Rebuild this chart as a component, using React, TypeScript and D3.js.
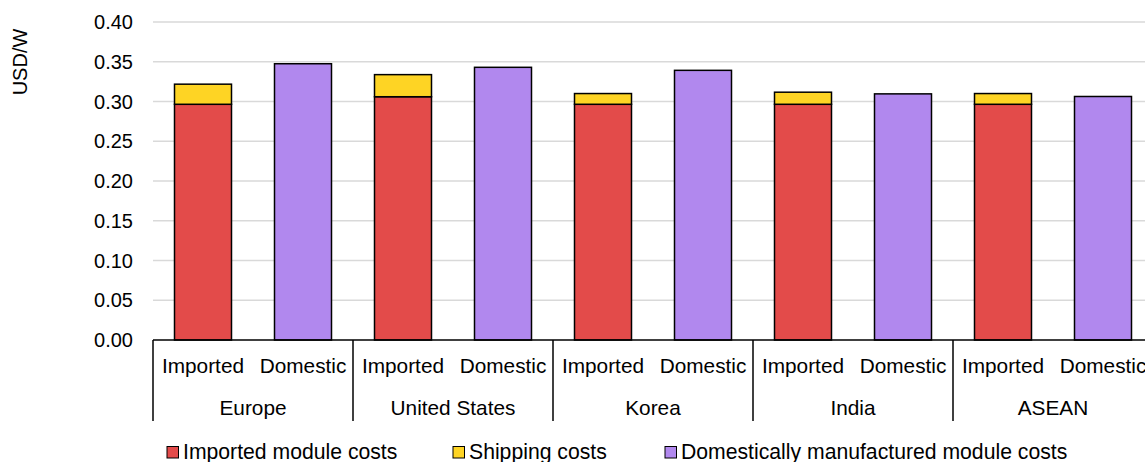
import React from "react";
import * as d3 from "d3";

const regions = ["Europe", "United States", "Korea", "India", "ASEAN"];
const sources = ["Imported", "Domestic"];
const importedModule = [0.2965, 0.306, 0.2965, 0.2965, 0.2965];
const shipping = [0.0253, 0.0278, 0.0135, 0.0152, 0.0135];
const domesticModule = [0.3475, 0.343, 0.3392, 0.3096, 0.3063];
const yTicks = [0, 0.05, 0.1, 0.15, 0.2, 0.25, 0.3, 0.35, 0.4];
const legendItems = [
  { label: "Imported module costs", color: "#E34B4A" },
  { label: "Shipping costs", color: "#FED424" },
  { label: "Domestically manufactured module costs", color: "#B188EE" },
];

const W = 1145;
const H = 462;
const left = 153;
const font = "'Liberation Sans', Arial, sans-serif";

export default function App() {
  const y = d3.scaleLinear().domain([0, 0.4]).range([340, 22]);
  const x0 = d3.scaleBand<string>().domain(regions).range([left, left + 1000]).padding(0);
  const x1 = d3
    .scaleBand<string>()
    .domain(sources)
    .range([0, x0.bandwidth()])
    .paddingInner(0.43)
    .paddingOuter(0.215);
  const fmt = d3.format(".2f");

  const bars: React.ReactNode[] = [];
  regions.forEach((r, i) => {
    const gx = x0(r)!;
    const xi = gx + x1("Imported")!;
    const xd = gx + x1("Domestic")!;
    const bw = x1.bandwidth();
    const stackTop = importedModule[i] + shipping[i];
    bars.push(
      <rect key={r + "-imp"} x={xi} y={y(importedModule[i])} width={bw} height={y(0) - y(importedModule[i])}
        fill={legendItems[0].color} stroke="#000" strokeWidth={1.5} />,
      <rect key={r + "-ship"} x={xi} y={y(stackTop)} width={bw} height={y(importedModule[i]) - y(stackTop)}
        fill={legendItems[1].color} stroke="#000" strokeWidth={1.5} />,
      <rect key={r + "-dom"} x={xd} y={y(domesticModule[i])} width={bw} height={y(0) - y(domesticModule[i])}
        fill={legendItems[2].color} stroke="#000" strokeWidth={1.5} />
    );
  });

  const legendX = [167, 453, 665];

  return (
    <svg width={W} height={H} style={{ position: "absolute", left: 0, top: 0 }} fontFamily={font}>
      <rect width={W} height={H} fill="#fff" />
      {yTicks.map((t) => (
        <g key={t}>
          {t > 0 && <line x1={left} x2={W} y1={y(t)} y2={y(t)} stroke="#d9d9d9" strokeWidth={1.5} />}
          <text x={133} y={y(t)} dy="0.35em" textAnchor="end" fontSize={20} fill="#000">
            {fmt(t)}
          </text>
        </g>
      ))}
      <text transform={`translate(27,62) rotate(-90)`} textAnchor="middle" fontSize={20} fill="#000">
        USD/W
      </text>
      {bars}
      <line x1={left} x2={W} y1={y(0)} y2={y(0)} stroke="#000" strokeWidth={1.5} />
      {regions.map((r) => (
        <g key={r}>
          <line x1={x0(r)!} x2={x0(r)!} y1={y(0)} y2={421} stroke="#000" strokeWidth={1.5} />
          {sources.map((s) => (
            <text key={s} x={x0(r)! + x1(s)! + x1.bandwidth() / 2} y={373} textAnchor="middle" fontSize={20.8} fill="#000">
              {s}
            </text>
          ))}
          <text x={x0(r)! + x0.bandwidth() / 2} y={415} textAnchor="middle" fontSize={20.8} fill="#000">
            {r}
          </text>
        </g>
      ))}
      {legendItems.map((it, i) => (
        <g key={it.label}>
          <rect x={legendX[i]} y={446.5} width={11.5} height={11.5} fill={it.color} stroke="#000" strokeWidth={1} />
          <text x={legendX[i] + 16} y={458.5} fontSize={21.2} fill="#000">
            {it.label}
          </text>
        </g>
      ))}
    </svg>
  );
}
